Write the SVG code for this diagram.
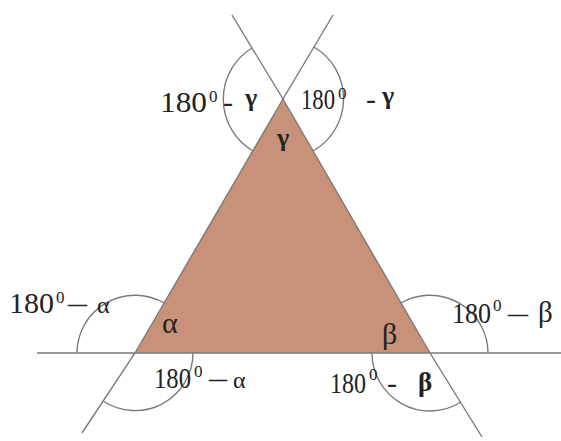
<svg xmlns="http://www.w3.org/2000/svg" width="561" height="441" viewBox="0 0 561 441">
<style>
.ln{stroke:#7a7a7a;stroke-width:1.4;fill:none}
.t{font-family:"Liberation Serif",serif;font-size:30px;fill:#222}
.sup{font-size:17px}
.g{font-size:26px;font-weight:bold}
</style>
<rect width="561" height="441" fill="#fff"/>
<g id="triangle">
<polygon points="283,99 135,353 430,353" fill="#c8927a"/>
</g>
<g id="connectors">
<line class="ln" x1="37" y1="353" x2="561" y2="353"/>
<polyline class="ln" points="82,433 135,353 283,99 333,15"/>
<polyline class="ln" points="232,15 283,99 430,353 482,437"/>
<path class="ln" d="M252,48 A60,60 0 0 0 253,151"/>
<path class="ln" d="M314,47 A60,60 0 0 1 313,151"/>
<path class="ln" d="M77,353 A58,58 0 0 1 164,303"/>
<path class="ln" d="M193,353 A58,58 0 0 1 103,401"/>
<path class="ln" d="M401,303 A58,58 0 0 1 488,353"/>
<path class="ln" d="M372,353 A58,58 0 0 0 461,402"/>
</g>
<g id="label-top-left">
<text class="t"><tspan x="160" y="112" textLength="47" lengthAdjust="spacingAndGlyphs">180</tspan><tspan class="sup" x="209" y="102">0</tspan><tspan x="223" y="112">-</tspan><tspan class="g" x="245" y="106">γ</tspan></text>
</g>
<g id="label-top-right">
<text class="t"><tspan x="301" y="109" textLength="34" lengthAdjust="spacingAndGlyphs">180</tspan><tspan class="sup" x="338" y="99">0</tspan><tspan x="366" y="109">-</tspan><tspan class="g" x="382" y="104">γ</tspan></text>
</g>
<g id="label-gamma">
<text class="t g" x="277" y="146" font-size="24">γ</text>
</g>
<g id="label-left">
<text class="t"><tspan x="9" y="313" textLength="45" lengthAdjust="spacingAndGlyphs">180</tspan><tspan class="sup" x="56" y="303">0</tspan><tspan x="68" y="313" textLength="19" lengthAdjust="spacingAndGlyphs">–</tspan><tspan x="97" y="313" font-size="24">α</tspan></text>
</g>
<g id="label-alpha">
<text class="t" x="162" y="333" font-size="23">α</text>
</g>
<g id="label-bottom-left">
<text class="t"><tspan x="154" y="388" textLength="37" lengthAdjust="spacingAndGlyphs">180</tspan><tspan class="sup" x="194" y="377">0</tspan><tspan x="209" y="388" textLength="18" lengthAdjust="spacingAndGlyphs">–</tspan><tspan x="233" y="388" font-size="24">α</tspan></text>
</g>
<g id="label-beta">
<text class="t" x="382" y="344" font-size="25">β</text>
</g>
<g id="label-bottom-right">
<text class="t"><tspan x="330" y="393" textLength="36" lengthAdjust="spacingAndGlyphs">180</tspan><tspan class="sup" x="369" y="380">0</tspan><tspan x="387" y="393">-</tspan><tspan x="418" y="391" font-size="27" font-weight="bold">β</tspan></text>
</g>
<g id="label-right">
<text class="t"><tspan x="452" y="323" textLength="39" lengthAdjust="spacingAndGlyphs">180</tspan><tspan class="sup" x="493" y="311">0</tspan><tspan x="508" y="323" textLength="20" lengthAdjust="spacingAndGlyphs">–</tspan><tspan x="538" y="322" font-size="29">β</tspan></text>
</g>
</svg>
